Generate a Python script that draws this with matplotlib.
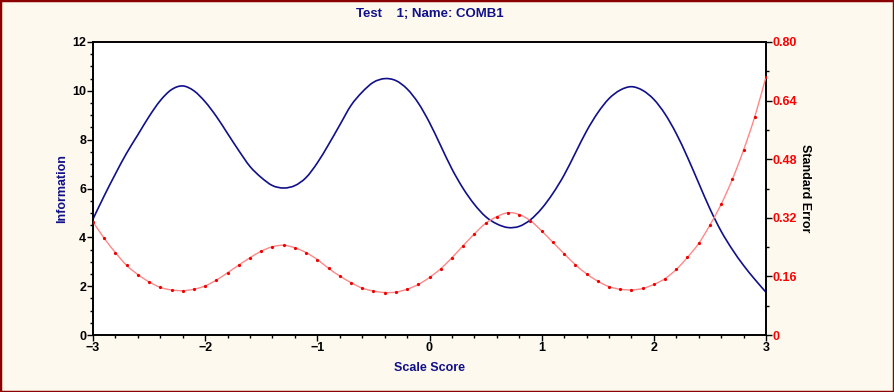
import numpy as np
import matplotlib
matplotlib.use("Agg")
import matplotlib.pyplot as plt
from matplotlib.patches import Rectangle, PathPatch
from matplotlib.path import Path
from matplotlib.ticker import MultipleLocator, FixedLocator

plt.rcParams['font.family'] = ['Liberation Sans', 'DejaVu Sans']
plt.rcParams['font.weight'] = 'bold'

# scale score grid, one point every 0.1
theta = [round(-3.0 + 0.1 * i, 1) for i in range(61)]

# test information
information = [
    4.75, 5.70, 6.60, 7.45, 8.20, 8.95, 9.60, 10.05, 10.20, 10.00,
    9.55, 8.95, 8.25, 7.55, 6.90, 6.45, 6.12, 6.02, 6.12, 6.45,
    7.05, 7.80, 8.60, 9.40, 9.95, 10.35, 10.50, 10.42, 10.08, 9.50,
    8.70, 7.75, 6.80, 6.00, 5.35, 4.85, 4.55, 4.40, 4.45, 4.72,
    5.18, 5.80, 6.55, 7.45, 8.35, 9.10, 9.68, 10.03, 10.17, 10.02,
    9.65, 9.05, 8.25, 7.28, 6.22, 5.17, 4.25, 3.50, 2.85, 2.28,
    1.75,
]

# standard error of measurement
std_error = [
    0.309, 0.264, 0.225, 0.190, 0.165, 0.145, 0.130, 0.123, 0.121, 0.125,
    0.134, 0.150, 0.170, 0.191, 0.211, 0.229, 0.241, 0.245, 0.238, 0.225,
    0.206, 0.182, 0.161, 0.143, 0.128, 0.120, 0.116, 0.117, 0.125, 0.138,
    0.157, 0.181, 0.211, 0.244, 0.276, 0.305, 0.323, 0.334, 0.329, 0.312,
    0.284, 0.253, 0.222, 0.192, 0.167, 0.147, 0.132, 0.125, 0.123, 0.127,
    0.138, 0.154, 0.179, 0.212, 0.250, 0.300, 0.357, 0.425, 0.505, 0.596,
    0.705,
]

info_ticks = [0, 2, 4, 6, 8, 10, 12]
se_ticks = [0, 0.16, 0.32, 0.48, 0.64, 0.80]
se_labels = ["0", "0.16", "0.32", "0.48", "0.64", "0.80"]
x_ticks = [-3, -2, -1, 0, 1, 2, 3]

navy = "#10108a"
bg = "#fef9ee"


def smooth_path(xs, ys):
    # cubic bezier through every point (Catmull-Rom tangents)
    x = np.asarray(xs, float)
    y = np.asarray(ys, float)
    n = len(x)
    verts = [(x[0], y[0])]
    codes = [Path.MOVETO]
    for i in range(n - 1):
        i0 = max(i - 1, 0)
        i3 = min(i + 2, n - 1)
        c1 = (x[i] + (x[i + 1] - x[i0]) / 6, y[i] + (y[i + 1] - y[i0]) / 6)
        c2 = (x[i + 1] - (x[i3] - x[i]) / 6, y[i + 1] - (y[i3] - y[i]) / 6)
        verts += [c1, c2, (x[i + 1], y[i + 1])]
        codes += [Path.CURVE4] * 3
    return Path(verts, codes)


fig = plt.figure(figsize=(8.94, 3.92), dpi=100, facecolor=bg)
ax = fig.add_axes([93 / 894, 57 / 392, 673 / 894, 293 / 392])
ax.set_facecolor("white")

ax.add_patch(PathPatch(smooth_path(theta, information), fill=False,
                       edgecolor=navy, lw=1.2, zorder=3))
ax.set_xlim(-3, 3)
ax.set_ylim(0, 12)
ax.set_xticks(x_ticks)
ax.set_yticks(info_ticks)
ax.xaxis.set_minor_locator(MultipleLocator(0.2))
ax.yaxis.set_minor_locator(MultipleLocator(0.5))
ax.tick_params(axis="both", which="major", direction="out", length=4,
               width=1, labelsize=9, pad=1)
ax.tick_params(axis="both", which="minor", direction="out", length=2, width=1)
ax.set_xlabel("Scale Score", color=navy, fontsize=9, fontweight="bold",
              labelpad=6)
ax.set_ylabel("Information", color=navy, fontsize=9, fontweight="bold",
              labelpad=3)
for s in ax.spines.values():
    s.set_linewidth(1.2)

ax2 = ax.twinx()
ax2.add_patch(PathPatch(smooth_path(theta, std_error), fill=False,
                        edgecolor="#ff8888", lw=1.0, zorder=3))
ax2.plot(theta, std_error, ls="none", marker="o", ms=1.3, color="#ee0000",
         zorder=4)
ax2.set_ylim(0, 0.8)
ax2.yaxis.set_major_locator(FixedLocator(se_ticks))
ax2.set_yticklabels(se_labels)
ax2.yaxis.set_minor_locator(MultipleLocator(0.08))
ax2.tick_params(axis="y", which="major", direction="out", length=4, width=1,
                labelsize=9, labelcolor="#ff0000", pad=1)
ax2.tick_params(axis="y", which="minor", direction="out", length=2, width=1)
ax2.set_ylabel("Standard Error", color="black", fontsize=9,
               fontweight="bold", rotation=270, labelpad=10)
for s in ax2.spines.values():
    s.set_linewidth(1.2)

fig.text(430 / 894, 1 - 14 / 392, "Test    1; Name: COMB1", ha="center",
         va="center", color=navy, fontsize=9.5, fontweight="bold")

fig.patches.append(Rectangle((0, 0), 1, 1, transform=fig.transFigure,
                             fill=False, edgecolor="#8b0000", lw=2.5))

fig.savefig("out.png", dpi=100, facecolor=bg)
